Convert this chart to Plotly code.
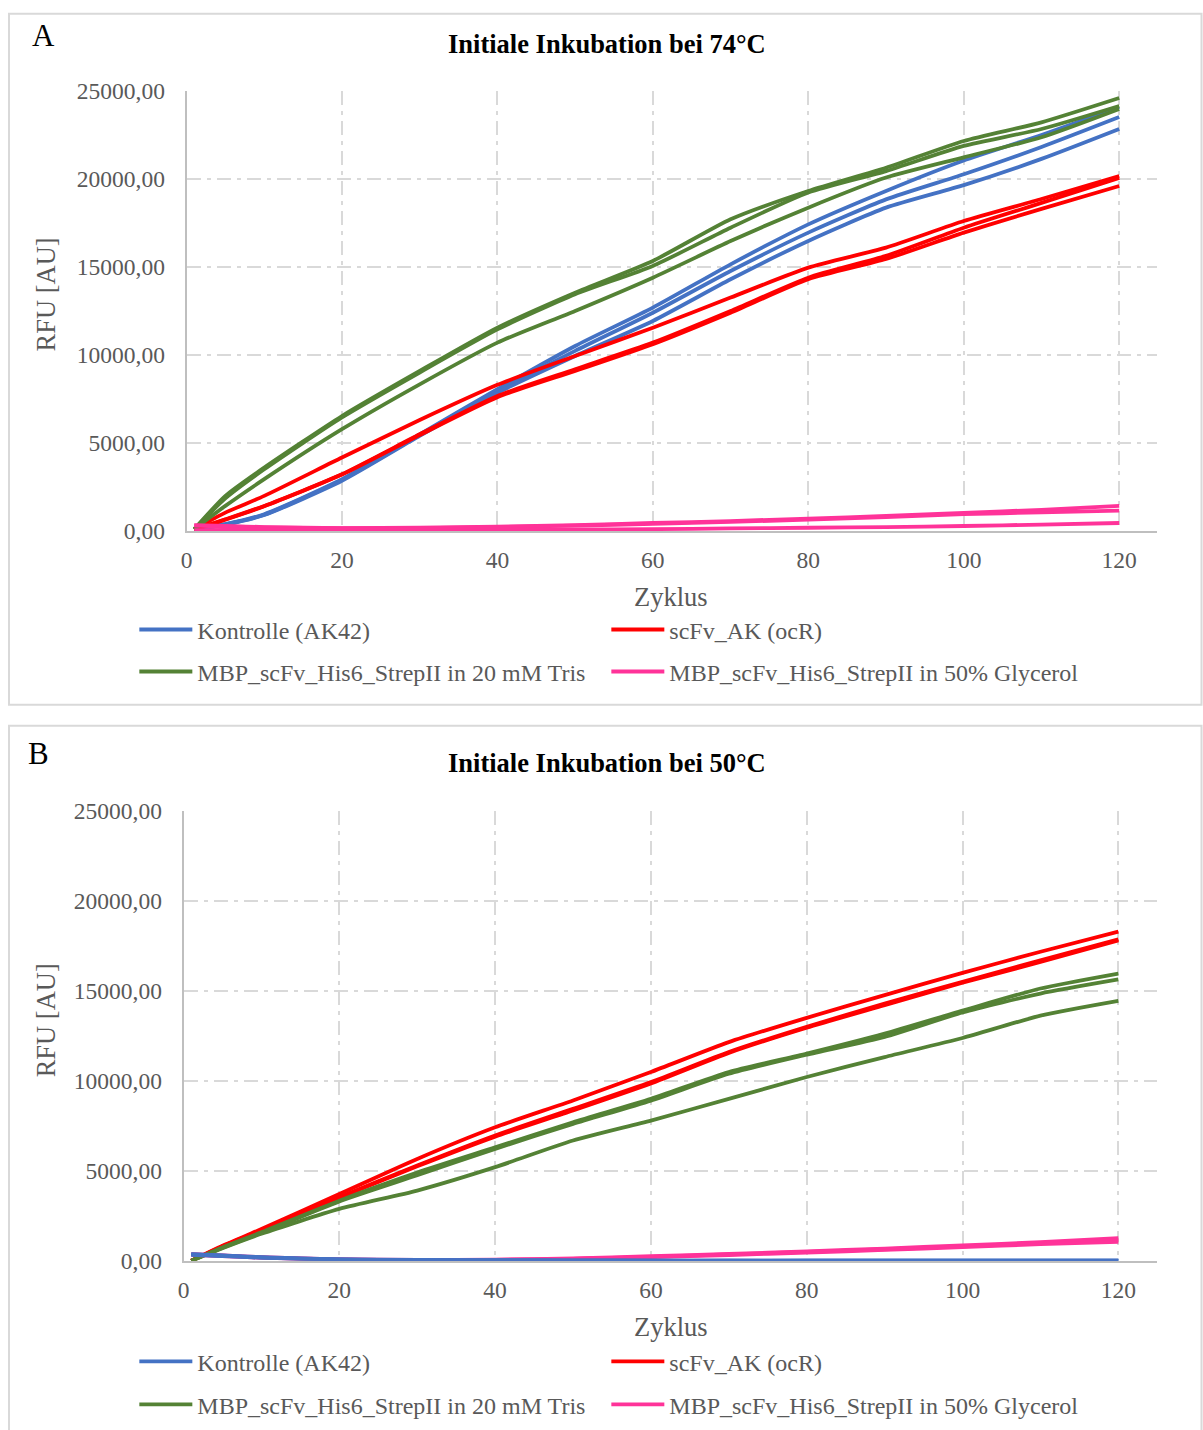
import plotly.graph_objects as go

W, H = 1203, 1430

CYCLES = [1, 5, 10, 20, 30, 40, 50, 60, 70, 80, 90, 100, 110, 120]

SERIES_NAMES = ["Kontrolle (AK42)", "scFv_AK (ocR)",
                "MBP_scFv_His6_StrepII in 20 mM Tris",
                "MBP_scFv_His6_StrepII in 50% Glycerol"]
SERIES_COLORS = ["#4472C4", "#FF0000", "#548235", "#FF3399"]

X_TICKS = [0, 20, 40, 60, 80, 100, 120]
Y_TICKS = [0, 5000, 10000, 15000, 20000, 25000]

# ---------- Panel A: initial incubation at 74 °C (3 replicates each) ----------
A_KONTROLLE = [
    [100, 380, 950, 2935, 5490, 8050, 10510, 12690, 15150, 17420, 19320, 21050, 22500, 24090],
    [80, 370, 920, 2900, 5450, 7950, 10230, 12400, 14770, 16950, 18840, 20270, 21820, 23520],
    [60, 350, 900, 2850, 5400, 7850, 9940, 11930, 14300, 16480, 18370, 19650, 21140, 22840],
]
A_SCFV = [
    [100, 1040, 1990, 4170, 6300, 8300, 9940, 11550, 13260, 14960, 16100, 17610, 18860, 20170],
    [80, 660, 1420, 3220, 5490, 7670, 9190, 10700, 12500, 14390, 15630, 17230, 18640, 20060],
    [60, 640, 1400, 3200, 5450, 7600, 9090, 10610, 12400, 14300, 15450, 16950, 18300, 19600],
]
A_TRIS = [
    [100, 1990, 3600, 6530, 9090, 11550, 13540, 15340, 17710, 19320, 20640, 22160, 23220, 24600],
    [100, 1850, 3500, 6450, 9000, 11450, 13450, 15060, 17230, 19230, 20450, 21880, 22840, 24150],
    [100, 1420, 2940, 5780, 8330, 10700, 12500, 14390, 16470, 18370, 20080, 21230, 22370, 23980],
]
A_GLYCEROL = [
    [330, 280, 220, 160, 180, 240, 330, 450, 560, 700, 850, 1020, 1200, 1420],
    [300, 250, 200, 150, 160, 210, 300, 400, 510, 640, 780, 950, 1050, 1150],
    [50, 60, 70, 70, 60, 60, 80, 100, 140, 180, 220, 280, 360, 450],
]

# ---------- Panel B: initial incubation at 50 °C ----------
B_KONTROLLE = [
    [370, 300, 200, 80, 50, 30, 20, 10, 10, 10, 10, 10, 10, 10],
    [350, 280, 180, 70, 40, 20, 10, 10, 0, 0, 0, 0, 0, 0],
    [330, 260, 170, 60, 30, 20, 10, 0, 0, 0, 0, 0, 0, 0],
]
B_SCFV = [
    [0, 835, 1760, 3710, 5660, 7420, 8910, 10490, 12150, 13500, 14760, 16000, 17170, 18290],
    [0, 800, 1700, 3530, 5290, 6960, 8440, 9930, 11600, 13000, 14290, 15500, 16700, 17860],
    [0, 790, 1680, 3500, 5250, 6900, 8350, 9850, 11550, 12950, 14200, 15450, 16600, 17800],
]
B_TRIS = [
    [0, 740, 1580, 3340, 4900, 6300, 7700, 9000, 10490, 11510, 12620, 13900, 15130, 15960],
    [0, 720, 1550, 3300, 4750, 6220, 7600, 8900, 10390, 11450, 12440, 13800, 14850, 15630],
    [0, 700, 1500, 2880, 3900, 5200, 6680, 7790, 9000, 10210, 11320, 12380, 13620, 14440],
]
B_GLYCEROL = [
    [370, 300, 200, 80, 50, 60, 130, 250, 380, 520, 680, 850, 1030, 1250],
    [350, 280, 180, 70, 40, 50, 110, 220, 350, 490, 640, 800, 980, 1150],
    [330, 260, 170, 60, 30, 40, 100, 200, 320, 460, 600, 760, 920, 1050],
]

FONT = "Liberation Serif, Times New Roman, serif"
GREY_TXT = "#595959"

# calibration of the photographed page (observed: x_out = 0.995 x + 5.5, y_out = 0.982 y + 14)
CAL_X = (0.995, 5.5)
CAL_Y = (0.982, 14.0)


def px_x(p):
    return ((p - CAL_X[1]) / CAL_X[0]) / W


def px_y(p):
    return 1 - max((p - CAL_Y[1]) / CAL_Y[0], 0.8) / H


fig = go.Figure()

panels = [
    dict(xa="x", ya="y", data=[A_KONTROLLE, A_SCFV, A_TRIS, A_GLYCEROL],
         order=[0, 1, 2, 3], legs=["legend", "legend", "legend2", "legend2"]),
    dict(xa="x2", ya="y2", data=[B_KONTROLLE, B_SCFV, B_TRIS, B_GLYCEROL],
         order=[1, 2, 3, 0], legs=["legend3", "legend3", "legend4", "legend4"]),
]

for p in panels:
    for si in p["order"]:
        reps = p["data"][si]
        for ri, vals in enumerate(reps):
            fig.add_trace(go.Scatter(
                x=CYCLES, y=vals, mode="lines",
                line=dict(color=SERIES_COLORS[si], width=3.8, shape="spline", smoothing=0.6),
                name=SERIES_NAMES[si],
                legendgroup=p["xa"] + str(si),
                showlegend=(ri == 0),
                legend=p["legs"][si],
                legendrank=si + 1,
                xaxis=p["xa"], yaxis=p["ya"],
                hoverinfo="skip",
            ))

grid_dash = "14px,6px,4px,6px"
common_x = dict(
    tickvals=X_TICKS, showgrid=True, gridcolor="#D9D9D9", gridwidth=1.8,
    griddash=grid_dash, zeroline=False, showline=True, linecolor="#BFBFBF",
    linewidth=1.8, ticks="", tickfont=dict(family=FONT, size=23.5, color=GREY_TXT),
    ticklabelstandoff=7,
)
common_y = dict(
    tickvals=Y_TICKS, range=[0, 25000], showgrid=True, gridcolor="#D9D9D9",
    gridwidth=1.8, griddash=grid_dash, zeroline=False, showline=True,
    linecolor="#BFBFBF", linewidth=1.8, ticks="", tickformat=".2f",
    tickfont=dict(family=FONT, size=23.5, color=GREY_TXT), ticklabelstandoff=15,
)

fig.update_layout(
    width=W, height=H, autosize=False,
    margin=dict(l=0, r=0, t=0, b=0),
    paper_bgcolor="white", plot_bgcolor="white",
    separators=",.",
    xaxis=dict(domain=[px_x(186), px_x(1156)], range=[0, 124.8], anchor="y", **common_x),
    yaxis=dict(domain=[px_y(532), px_y(92)], anchor="x", **common_y),
    xaxis2=dict(domain=[px_x(183), px_x(1156)], range=[0, 124.9], anchor="y2", **common_x),
    yaxis2=dict(domain=[px_y(1262), px_y(812)], anchor="x2", **common_y),
)

leg_common = dict(orientation="h", xanchor="left", yanchor="middle",
                  entrywidth=404, entrywidthmode="pixels", itemwidth=53,
                  font=dict(family=FONT, size=24, color=GREY_TXT),
                  bgcolor="rgba(0,0,0,0)", traceorder="normal")
LEG_X = px_x(140) - 6.2 / W
fig.update_layout(
    legend=dict(x=LEG_X, y=px_y(631), **leg_common),
    legend2=dict(x=LEG_X, y=px_y(673), **leg_common),
    legend3=dict(x=LEG_X, y=px_y(1363), **leg_common),
    legend4=dict(x=LEG_X, y=px_y(1406), **leg_common),
)

# panel frames
fig.add_shape(type="rect", xref="paper", yref="paper",
              x0=px_x(8.5), x1=px_x(1201), y0=px_y(706), y1=px_y(8.5),
              line=dict(color="#D9D9D9", width=2), layer="below")
fig.add_shape(type="rect", xref="paper", yref="paper",
              x0=px_x(8.5), x1=px_x(1201), y0=-0.02, y1=px_y(727),
              line=dict(color="#D9D9D9", width=2), layer="below")


def txt(text, x, y, size, color="black", bold=False, angle=0):
    fig.add_annotation(
        text=("<b>%s</b>" % text) if bold else text,
        x=px_x(x), y=px_y(y), xref="paper", yref="paper",
        xanchor="center", yanchor="middle", showarrow=False, textangle=angle,
        font=dict(family=FONT, size=size, color=color),
    )


txt("A", 43, 37, 31)
txt("B", 38, 755, 31)
txt("Initiale Inkubation bei 74°C", 606, 45, 26.5, bold=True)
txt("Initiale Inkubation bei 50°C", 606, 764, 26.5, bold=True)
txt("Zyklus", 670, 598, 26.5, GREY_TXT)
txt("Zyklus", 670, 1328, 26.5, GREY_TXT)
txt("RFU [AU]", 45, 296, 26.5, GREY_TXT, angle=-90)
txt("RFU [AU]", 45, 1022, 26.5, GREY_TXT, angle=-90)

fig.write_html(
    "out.html",
    config={"displayModeBar": False},
    post_script=(
        "document.documentElement.style.margin='0';"
        "document.documentElement.style.overflow='hidden';"
        "document.body.style.margin='0';document.body.style.overflow='hidden';"
        "var d=document.getElementById('{plot_id}');"
        "d.style.position='fixed';d.style.top='0px';d.style.left='0px';"
    ),
)
